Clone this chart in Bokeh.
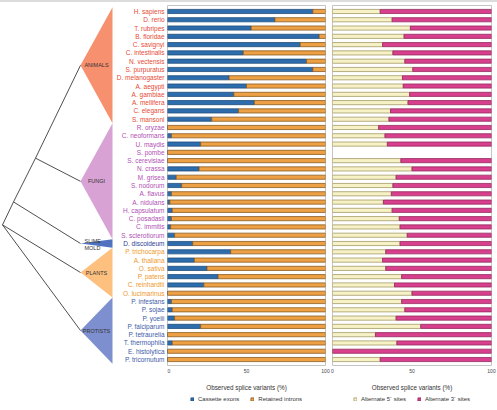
from bokeh.plotting import figure
from bokeh.layouts import row, column
from bokeh.models import (Range1d, FixedTicker, Legend, LegendItem,
                          ColumnDataSource, Spacer, Div)
from bokeh.core.properties import value
from bokeh.embed import file_html
from bokeh.resources import INLINE

# ---- data -------------------------------------------------------------
species = [
    "H. sapiens", "D. rerio", "T. rubripes", "B. floridae", "C. savignyi",
    "C. intestinalis", "N. vectensis", "S. purpuratus", "D. melanogaster",
    "A. aegypti", "A. gambiae", "A. mellifera", "C. elegans", "S. mansoni",
    "R. oryzae", "C. neoformans", "U. maydis", "S. pombe", "S. cerevisiae",
    "N. crassa", "M. grisea", "S. nodorum", "A. flavus", "A. nidulans",
    "H. capsulatum", "C. posadasii", "C. immitis", "S. sclerotiorum",
    "D. discoideum",
    "P. trichocarpa", "A. thaliana", "O. sativa", "P. patens", "C. reinhardtii",
    "O. lucimarinus",
    "P. infestans", "P. sojae", "P. yoelii", "P. falciparum", "P. tetraurelia",
    "T. thermophila", "E. histolytica", "P. tricornutum",
]
group_names = ["ANIMALS", "FUNGI", "SLIME MOLD", "PLANTS", "PROTISTS"]
group_sizes = [14, 14, 1, 6, 8]

# percent of observed variants (left panel)
cassette_exons = [92, 68, 53, 96, 84, 48, 88, 92, 39, 50, 42, 55, 45, 28,
                  0, 2.5, 21, 0, 0, 20, 5.5, 9, 2.5, 1.5, 3, 2.5, 2, 4.5,
                  16,
                  40, 17, 25, 32, 23, 0,
                  2.5, 3, 4.5, 21, 0, 3, 0, 0]
retained_introns = [8, 32, 47, 4, 16, 52, 12, 8, 61, 50, 58, 45, 55, 72,
                    100, 97.5, 79, 100, 100, 80, 94.5, 91, 97.5, 98.5, 97, 97.5, 98, 95.5,
                    84,
                    60, 83, 75, 68, 77, 100,
                    97.5, 97, 95.5, 79, 100, 97, 100, 100]

# percent of observed variants (right panel); None = no data
alt5_sites = [30, 37.5, 49, 45, 31.5, 38, 45.5, 50.5, 44, 44.5, 48.5, 47.5, 36.5, 35.5,
              29, 33, 34.5, None, 43, 50, 40, 38, 37, 32, 37.5, 42, 42.5, 47,
              42.5,
              33.5, 31.5, 33.5, 43.5, 39, 50,
              43.5, 45.5, 40, 55.5, 27, 40.5, 0, 30]
alt3_sites = [70, 62.5, 51, 55, 68.5, 62, 54.5, 49.5, 56, 55.5, 51.5, 52.5, 63.5, 64.5,
              71, 67, 65.5, None, 57, 50, 60, 62, 63, 68, 62.5, 58, 57.5, 53,
              57.5,
              66.5, 68.5, 66.5, 56.5, 61, 50,
              56.5, 54.5, 60, 44.5, 73, 59.5, 100, 70]

x_ticks = [0, 50, 100]

# ---- styling ----------------------------------------------------------
FONT = "Liberation Sans"
label_colors = ["#e64a35", "#b04fb3", "#2b3d92", "#f0982c", "#3c5aa8"]
wedge_colors = ["#f7906f", "#d8a2d5", "#5072c0", "#fdc07f", "#7d8fcf"]
C_CAS, C_CAS_L = "#2e6dad", "#1f4d7a"
C_RET, C_RET_L = "#eea045", "#8a5a1e"
C_A5, C_A5_L = "#f7f1c6", "#a39b68"
C_A3, C_A3_L = "#d83f8c", "#94295e"

STRIP_H = 2      # thin grey rule along the top edge
H = 391          # main row height
KEY_H = 17       # key row underneath
TOP, BOTTOM = 3, 27
n = len(species)
rows_idx = list(range(n))
y_range = Range1d(n - 1 + 0.72, -0.72)

group_of = []
for g, s in enumerate(group_sizes):
    group_of += [g] * s

# ---- tree + species labels ---------------------------------------------
tree = figure(width=167, height=H, x_range=Range1d(0, 167), y_range=y_range,
              output_backend="svg", toolbar_location=None,
              min_border_left=0, min_border_right=0,
              min_border_top=TOP, min_border_bottom=BOTTOM)
tree.axis.visible = False
tree.grid.visible = False
tree.outline_line_color = None

starts = [sum(group_sizes[:i]) for i in range(len(group_sizes))]
apex_x, edge_x = 80, 112
apex = []
for g, (st, sz) in enumerate(zip(starts, group_sizes)):
    top, bot = st - 0.5, st + sz - 0.5
    mid = (top + bot) / 2
    apex.append((apex_x, mid))
    tree.patch([apex_x, edge_x, edge_x], [mid, top, bot],
               fill_color=wedge_colors[g], line_color=None)

# slanted cladogram: ((animals, fungi), slime mold), plants, protists
root = (2, 25.75)
node_a = (13, 22.98)
node_b = (35, 17.7)
segments = [(root, node_a), (node_a, node_b), (node_b, apex[0]), (node_b, apex[1]),
            (node_a, apex[2]), (root, apex[3]), (root, apex[4])]
tree.multi_line([[a[0], b[0]] for a, b in segments],
                [[a[1], b[1]] for a, b in segments],
                line_color="#3a3a3a", line_width=0.9)

for g, name in enumerate(group_names):
    if name == "SLIME MOLD":
        tree.text(x=[84, 84], y=[apex[g][1] - 0.3, apex[g][1] + 0.55],
                  text=["SLIME", "MOLD"], text_align="left",
                  text_baseline="middle", text_font=value(FONT),
                  text_font_size="5.5px", text_color="#333333")
    else:
        tree.text(x=[96], y=[apex[g][1]], text=[name], text_align="center",
                  text_baseline="middle", text_font=value(FONT),
                  text_font_size="5.5px", text_color="#333333")

tree.text(x=[164] * n, y=rows_idx, text=species,
          text_color=[label_colors[g] for g in group_of],
          text_align="right", text_baseline="middle",
          text_font=value(FONT), text_font_size="6.5px")


# ---- bar panels --------------------------------------------------------
def bar_panel(width, border_l, border_r, first, second, colors):
    p = figure(width=width, height=H, x_range=Range1d(0, 100), y_range=y_range,
               output_backend="svg", toolbar_location=None,
               min_border_left=border_l, min_border_right=border_r,
               min_border_top=TOP, min_border_bottom=BOTTOM)
    p.yaxis.visible = False
    p.grid.visible = False
    p.outline_line_color = "#c4c4c4"
    p.outline_line_width = 1

    ys, a_vals, b_vals = [], [], []
    for i in rows_idx:
        if first[i] is None:
            continue
        ys.append(i)
        a_vals.append(first[i])
        b_vals.append(first[i] + second[i])
    src = ColumnDataSource(dict(y=ys, a=a_vals, b=b_vals, z=[0] * len(ys)))
    (fa, la), (fb, lb) = colors
    p.hbar(y="y", left="z", right="a", height=0.5, source=src,
           fill_color=fa, line_color=la, line_width=0.8)
    p.hbar(y="y", left="a", right="b", height=0.5, source=src,
           fill_color=fb, line_color=lb, line_width=0.8)

    ax = p.xaxis[0]
    ax.ticker = FixedTicker(ticks=x_ticks)
    ax.axis_line_color = None
    ax.major_tick_line_color = None
    ax.minor_tick_line_color = None
    ax.major_tick_out = 0
    ax.major_label_standoff = 3
    ax.major_label_text_font = FONT
    ax.major_label_text_font_size = "5px"
    ax.major_label_text_color = "#444444"
    ax.axis_label = "Observed splice variants (%)"
    ax.axis_label_text_font = FONT
    ax.axis_label_text_font_size = "6.3px"
    ax.axis_label_text_font_style = "normal"
    ax.axis_label_text_color = "#333333"
    ax.axis_label_standoff = 8
    return p


def key_panel(width, colors, names, x_off):
    # swatch renderers hold a single point parked outside the visible range
    k = figure(width=width, height=KEY_H, x_range=Range1d(0, 1),
               y_range=Range1d(0, 1), output_backend="svg",
               toolbar_location=None, min_border=0)
    k.axis.visible = False
    k.grid.visible = False
    k.outline_line_color = None
    items = []
    for (fc, lc), name in zip(colors, names):
        r = k.quad(left=[-3], right=[-2], bottom=[-3], top=[-2],
                   fill_color=fc, line_color=lc, line_width=0.8)
        items.append(LegendItem(label=name, renderers=[r]))
    leg = Legend(items=items, orientation="horizontal", location=(x_off, 8),
                 label_text_font=FONT, label_text_font_size="6px",
                 label_text_color="#333333", glyph_width=4, glyph_height=4,
                 label_height=6, label_standoff=4, spacing=11, padding=0,
                 margin=0, border_line_color=None, background_fill_alpha=0)
    k.add_layout(leg)
    return k


exon_colors = [(C_CAS, C_CAS_L), (C_RET, C_RET_L)]
site_colors = [(C_A5, C_A5_L), (C_A3, C_A3_L)]
exon_names = ["Cassette exons", "Retained introns"]
site_names = ["Alternate 5\u00b4 sites", "Alternate 3\u00b4 sites"]

left = bar_panel(163, 0, 5, cassette_exons, retained_introns, exon_colors)
right = bar_panel(167, 2, 6, alt5_sites, alt3_sites, site_colors)
left_key = key_panel(163, exon_colors, exon_names, 23)
right_key = key_panel(167, site_colors, site_names, 23)

strip = Div(text="", width=497, height=STRIP_H, margin=0,
            styles={"background-color": "#dcdcdc"})

layout = column(strip,
                row(tree, left, right, spacing=0),
                row(Spacer(width=167, height=KEY_H), left_key, right_key, spacing=0),
                spacing=0)

open("out.html", "w").write(file_html(layout, INLINE))
